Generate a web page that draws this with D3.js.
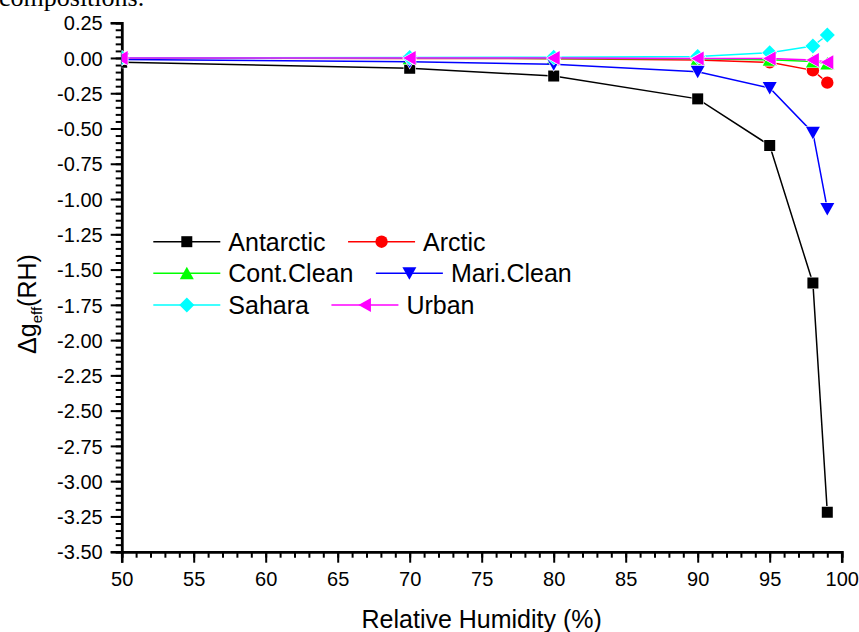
<!DOCTYPE html>
<html>
<head>
<meta charset="utf-8">
<script src="https://cdn.jsdelivr.net/npm/d3@7"></script>
<style>
  html, body { margin: 0; padding: 0; background: #fff; }
  svg { display: block; }
  text { font-family: "Liberation Sans", Arial, sans-serif; fill: #000; }
</style>
</head>
<body>
<svg id="chart" width="859" height="632"></svg>
<script>
// ---- data ----
const humidity = [50, 70, 80, 90, 95, 98, 99];
const seriesNames = ["Antarctic", "Arctic", "Cont.Clean", "Mari.Clean", "Sahara", "Urban"];
const antarctic = [-0.03, -0.073, -0.128, -0.29, -0.62, -1.595, -3.22];
const arctic    = [-0.002, -0.003, -0.005, -0.015, -0.031, -0.088, -0.175];
const contClean = [-0.001, -0.002, -0.003, -0.006, -0.013, -0.025, -0.04];
const mariClean = [-0.01, -0.027, -0.045, -0.097, -0.213, -0.53, -1.07];
const sahara    = [0.001, 0.003, 0.005, 0.01, 0.037, 0.085, 0.163];
const urban     = [-0.001, -0.001, -0.001, -0.003, -0.004, -0.015, -0.031];
const xTicks = [50, 55, 60, 65, 70, 75, 80, 85, 90, 95, 100];
const yTicks = [0.25, 0, -0.25, -0.5, -0.75, -1, -1.25, -1.5, -1.75, -2, -2.25, -2.5, -2.75, -3, -3.25, -3.5];
const xLabel = "Relative Humidity (%)";
const headerText = "compositions.";

const seriesValues = [antarctic, arctic, contClean, mariClean, sahara, urban];
const colors = ["#000000", "#ff0000", "#00ff00", "#0000ff", "#00ffff", "#ff00ff"];
const shapes = ["square", "circle", "triUp", "triDown", "diamond", "triLeft"];

// ---- layout ----
const L = 121.7, R = 841.7, T = 22.7, B = 551.7;
const svg = d3.select("#chart");

const x = d3.scaleLinear().domain([50, 100]).range([L, R]);
const y = d3.scaleLinear().domain([-3.5, 0.25]).range([B, T]);

function markerPath(shape) {
  const p = d3.path();
  if (shape === "square") { const h = 5.5; p.rect(-h, -h, 2 * h, 2 * h); }
  else if (shape === "circle") { p.arc(0, 0, 6.2, 0, 2 * Math.PI); }
  else if (shape === "triUp") { p.moveTo(0, -6.5); p.lineTo(7, 6); p.lineTo(-7, 6); p.closePath(); }
  else if (shape === "triDown") { p.moveTo(-7, -6); p.lineTo(7, -6); p.lineTo(0, 6.5); p.closePath(); }
  else if (shape === "triLeft") { p.moveTo(-6.5, 0); p.lineTo(6, -7); p.lineTo(6, 7); p.closePath(); }
  else if (shape === "diamond") { p.moveTo(0, -7.5); p.lineTo(7.5, 0); p.lineTo(0, 7.5); p.lineTo(-7.5, 0); p.closePath(); }
  return p.toString();
}

// header text (cut off at the top)
svg.append("text").attr("x", -1).attr("y", 6)
  .style("font-family", "'Liberation Serif', 'Times New Roman', serif")
  .style("font-size", "26px").text(headerText);

// ---- axes ----
const fmt = d => (Math.abs(d) < 1e-9 ? 0 : d).toFixed(2);
const yMinor = d3.range(0, 76).map(i => +(-3.5 + i * 0.05).toFixed(2));
const xMinor = d3.range(50, 101);

const gy = svg.append("g").attr("transform", `translate(${L},0)`);
gy.call(d3.axisLeft(y).tickValues(yMinor).tickSize(6).tickFormat(""));
gy.call(g => g.selectAll(".tick text").remove());
const gyMaj = svg.append("g").attr("transform", `translate(${L},0)`);
gyMaj.call(d3.axisLeft(y).tickValues(yTicks).tickSize(11).tickPadding(8).tickFormat(fmt));

const gx = svg.append("g").attr("transform", `translate(0,${B})`);
gx.call(d3.axisBottom(x).tickValues(xMinor).tickSize(6).tickFormat(""));
const gxMaj = svg.append("g").attr("transform", `translate(0,${B})`);
gxMaj.call(d3.axisBottom(x).tickValues(xTicks).tickSize(11).tickPadding(8).tickFormat(d3.format("d")));

svg.selectAll(".domain").attr("stroke", "#000").attr("stroke-width", 2.5);
svg.selectAll(".tick line").attr("stroke", "#000").attr("stroke-width", 2);
svg.selectAll(".tick text").style("font-size", "20px").style("font-family", "'Liberation Sans', Arial, sans-serif");
gyMaj.selectAll(".tick text").attr("dy", "0.36em");
gxMaj.selectAll(".tick text").attr("dy", "0.78em");

// axis titles
svg.append("text").attr("x", (L + R) / 2).attr("y", 628).attr("text-anchor", "middle")
  .style("font-size", "25px").text(xLabel);

const yt = svg.append("text").attr("transform", "translate(36,304) rotate(-90)")
  .attr("text-anchor", "middle").style("font-size", "25px");
yt.append("tspan").text("\u0394g");
yt.append("tspan").attr("dy", 6).style("font-size", "15px").text("eff");
yt.append("tspan").attr("dy", -6).text("(RH)");

// ---- plot ----
svg.append("clipPath").attr("id", "plotclip").append("rect")
  .attr("x", L).attr("y", 0).attr("width", R - L + 10).attr("height", B);

const plot = svg.append("g").attr("clip-path", "url(#plotclip)");
const line = d3.line().x(d => x(d[0])).y(d => y(d[1]));

seriesNames.forEach((name, i) => {
  const pts = humidity.map((h, j) => [h, seriesValues[i][j]]);
  const g = plot.append("g");
  g.append("path").datum(pts).attr("d", line)
    .attr("fill", "none").attr("stroke", colors[i]).attr("stroke-width", 1.5);
  g.selectAll("path.m").data(pts).join("path").attr("class", "m")
    .attr("transform", d => `translate(${x(d[0])},${y(d[1])})`)
    .attr("d", markerPath(shapes[i]))
    .attr("fill", colors[i]).attr("stroke", "#fff").attr("stroke-width", 1.2)
    .attr("paint-order", "stroke");
});

// ---- legend ----
const rows = [[0, 1], [2, 3], [4, 5]];
const rowY = [241.7, 273.3, 305];
rows.forEach((row, r) => {
  let cx = 153.3;
  row.forEach(i => {
    const g = svg.append("g");
    g.append("line").attr("x1", cx).attr("x2", cx + 67).attr("y1", rowY[r]).attr("y2", rowY[r])
      .attr("stroke", colors[i]).attr("stroke-width", 1.5);
    g.append("path").attr("transform", `translate(${cx + 33.5},${rowY[r]})`)
      .attr("d", markerPath(shapes[i])).attr("fill", colors[i]);
    const t = g.append("text").attr("x", cx + 75).attr("y", rowY[r] + 9)
      .style("font-size", "25px").text(seriesNames[i]);
    cx = cx + 75 + t.node().getComputedTextLength() + 22.5;
  });
});
</script>
</body>
</html>
